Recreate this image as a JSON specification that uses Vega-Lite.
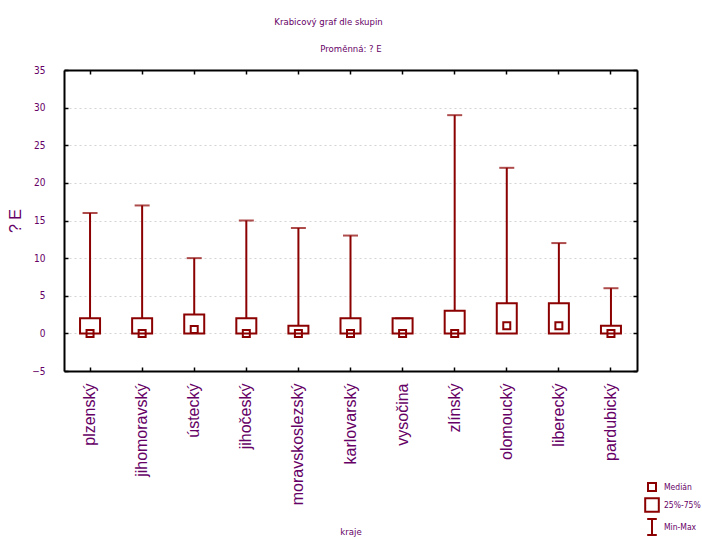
{
  "$schema": "https://vega.github.io/schema/vega-lite/v6.json",
  "width": 573,
  "height": 301,
  "autosize": "none",
  "padding": {"left": 64, "top": 70, "right": 65, "bottom": 168},
  "background": "white",
  "title": {
    "text": "Krabicový graf dle skupin",
    "font": "DejaVu Sans Condensed, sans-serif",
    "fontSize": 9.5,
    "fontWeight": "normal",
    "color": "#660066",
    "anchor": "middle",
    "dx": -22,
    "offset": 17
  },
  "config": {
    "view": {"stroke": null},
    "axis": {
      "domainColor": "black",
      "domainWidth": 2,
      "tickColor": "black",
      "tickWidth": 1.5,
      "tickSize": -4
    }
  },
  "data": {
    "values": [
      {"kraj": "plzenský", "min": 0, "q1": 0, "median": 0, "q3": 2, "max": 16},
      {"kraj": "jihomoravský", "min": 0, "q1": 0, "median": 0, "q3": 2, "max": 17},
      {"kraj": "ústecký", "min": 0, "q1": 0, "median": 0.5, "q3": 2.5, "max": 10},
      {"kraj": "jihočeský", "min": 0, "q1": 0, "median": 0, "q3": 2, "max": 15},
      {"kraj": "moravskoslezský", "min": 0, "q1": 0, "median": 0, "q3": 1, "max": 14},
      {"kraj": "karlovarský", "min": 0, "q1": 0, "median": 0, "q3": 2, "max": 13},
      {"kraj": "vysočina", "min": 0, "q1": 0, "median": 0, "q3": 2, "max": 2},
      {"kraj": "zlínský", "min": 0, "q1": 0, "median": 0, "q3": 3, "max": 29},
      {"kraj": "olomoucký", "min": 0, "q1": 0, "median": 1, "q3": 4, "max": 22},
      {"kraj": "liberecký", "min": 0, "q1": 0, "median": 1, "q3": 4, "max": 12},
      {"kraj": "pardubický", "min": 0, "q1": 0, "median": 0, "q3": 1, "max": 6}
    ]
  },
  "layer": [
    {
      "mark": {"type": "bar", "filled": false, "strokeWidth": 2, "width": 20, "color": "#8b0000"},
      "encoding": {
        "x": {
          "field": "kraj", "type": "nominal", "sort": null,
          "scale": {"paddingInner": 0, "paddingOuter": 0},
          "axis": {
            "orient": "bottom",
            "title": "kraje",
            "titleFont": "DejaVu Sans Condensed, sans-serif",
            "titleFontSize": 9.5,
            "titleFontWeight": "normal",
            "titleColor": "#660066",
            "titleY": 155,
            "titleBaseline": "top",
            "labelAngle": -90,
            "labelFont": "Liberation Sans, Arial, sans-serif",
            "labelFontSize": 16,
            "labelColor": "#660066",
            "labelPadding": 16,
            "grid": false
          }
        },
        "y": {
          "field": "q1", "type": "quantitative",
          "scale": {"domain": [-5, 35], "nice": false, "zero": false},
          "axis": {
            "orient": "left",
            "values": [-5, 0, 5, 10, 15, 20, 25, 30, 35],
            "title": "? E",
            "titleFont": "Liberation Sans, Arial, sans-serif",
            "titleFontSize": 16,
            "titleFontWeight": "normal",
            "titleColor": "#660066",
            "titleAngle": -90,
            "titleBaseline": "bottom",
            "titleX": -41,
            "labelFont": "DejaVu Sans Condensed, sans-serif",
            "labelFontSize": 10,
            "labelColor": "#660066",
            "labelPadding": 23,
            "grid": true,
            "gridDash": [2, 3],
            "gridColor": "#d4d4d4",
            "gridWidth": 1
          }
        },
        "y2": {"field": "q3"}
      }
    },
    {
      "mark": {"type": "rule", "strokeWidth": 2, "color": "#8b0000"},
      "encoding": {
        "x": {"field": "kraj", "type": "nominal", "sort": null, "axis": null},
        "y": {"field": "q3", "type": "quantitative", "scale": {"domain": [-5, 35], "nice": false, "zero": false}, "axis": null},
        "y2": {"field": "max"}
      }
    },
    {
      "mark": {"type": "tick", "thickness": 2, "size": 15, "color": "#8b0000"},
      "encoding": {
        "x": {
          "field": "kraj", "type": "nominal", "sort": null,
          "axis": {
            "orient": "top",
            "labels": false,
            "grid": false,
            "title": "Proměnná: ? E",
            "titleFont": "DejaVu Sans Condensed, sans-serif",
            "titleFontSize": 9.5,
            "titleFontWeight": "normal",
            "titleColor": "#660066",
            "titleY": -22,
            "titleBaseline": "middle"
          }
        },
        "y": {
          "field": "max", "type": "quantitative",
          "scale": {"domain": [-5, 35], "nice": false, "zero": false},
          "axis": {
            "orient": "right",
            "values": [-5, 0, 5, 10, 15, 20, 25, 30, 35],
            "labels": false,
            "grid": false,
            "title": null
          }
        }
      }
    },
    {
      "mark": {"type": "point", "filled": false, "size": 196, "strokeWidth": 2, "opacity": 1, "color": "#8b0000"},
      "encoding": {
        "x": {"field": "kraj", "type": "nominal", "sort": null, "axis": null},
        "y": {"field": "median", "type": "quantitative", "scale": {"domain": [-5, 35], "nice": false, "zero": false}, "axis": null},
        "shape": {
          "datum": "Medián", "type": "nominal",
          "scale": {
            "domain": ["Medián", "25%-75%", "Min-Max"],
            "range": [
              "M-0.5,-0.5H0.5V0.5H-0.5Z",
              "M-0.85,-0.85H0.85V0.85H-0.85Z",
              "M-0.6,-1H0.6M0,-1V1M-0.6,1H0.6"
            ]
          },
          "legend": {
            "orient": "none",
            "legendX": 579,
            "legendY": 408,
            "title": null,
            "padding": 0,
            "rowPadding": -1,
            "labelOffset": 3,
            "labelFont": "DejaVu Sans Condensed, sans-serif",
            "labelFontSize": 8.5,
            "labelColor": "#660066",
            "symbolSize": 256,
            "symbolStrokeWidth": 2,
            "symbolStrokeColor": "#8b0000",
            "symbolFillColor": "transparent"
          }
        }
      }
    }
  ],
  "resolve": {"axis": {"x": "independent", "y": "independent"}}
}
